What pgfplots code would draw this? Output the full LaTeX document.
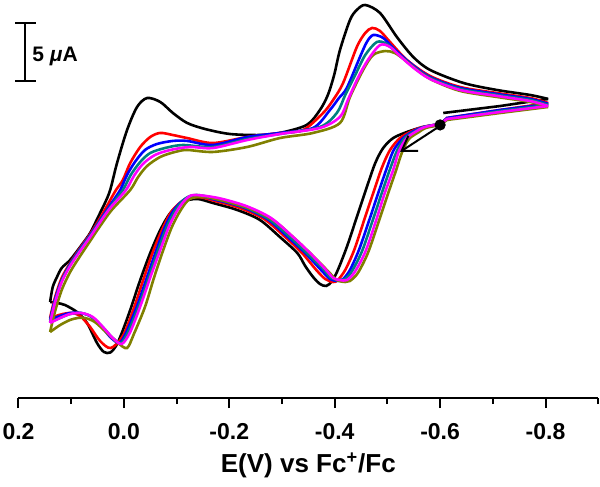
\documentclass[border=0pt]{standalone}
\usepackage{fontspec}
\setmainfont{Liberation Sans}
\usepackage{pgfplots}
\pgfplotsset{compat=1.18}
\usetikzlibrary{arrows.meta}
\definecolor{cvteal}{RGB}{0,128,128}
\definecolor{cvolive}{RGB}{128,128,0}
\definecolor{cvmag}{RGB}{255,0,255}
\definecolor{cvred}{RGB}{255,0,0}
\definecolor{cvblue}{RGB}{0,0,255}
\begin{document}
\begin{tikzpicture}
\path[use as bounding box] (-9.25pt,-44.5pt) rectangle (290.75pt,199pt);
\begin{axis}[
  scale only axis, width=289.85pt, height=199pt,
  x dir=reverse, xmin=-0.9, xmax=0.2, ymin=-17.07, ymax=17.24,
  axis x line*=bottom, axis y line=none, ytick=\empty,
  xtick={0.2,0,-0.2,-0.4,-0.6,-0.8},
  xticklabels={0.2,0.0,-0.2,-0.4,-0.6,-0.8},
  minor xtick={0.1,-0.1,-0.3,-0.5,-0.7,-0.9},
  tick align=outside, major tick length=5pt, minor tick length=3pt,
  every tick/.style={black, line width=1pt},
  axis line style={line width=1pt},
  ticklabel style={font=\fontsize{11.5}{13}\selectfont\bfseries},
  xticklabel style={yshift=-4pt},
  xlabel={E(V) vs Fc\textsuperscript{+}/Fc},
  xlabel style={font=\fontsize{13}{15}\selectfont\bfseries, at={(axis description cs:0.5,0)}, anchor=base, yshift=-37.3pt},
  clip=false,
  cv/.style={line width=1.3pt, smooth},
  cvs/.style={line width=1.3pt},
]
% ---------- black ----------
\addplot[black, cv] coordinates {
(-0.600,6.47) (-0.562,6.21) (-0.537,5.86) (-0.511,5.34) (-0.492,4.48) (-0.477,3.19)
(-0.461,1.12) (-0.442,-1.47) (-0.423,-4.05) (-0.406,-6.03) (-0.395,-7.00) (-0.384,-7.41)
(-0.372,-7.24) (-0.359,-6.64) (-0.344,-5.69) (-0.329,-4.57) (-0.296,-3.19) (-0.258,-1.72) (-0.215,-0.86)
(-0.169,-0.26) (-0.139,0.09) (-0.112,-0.17) (-0.088,-1.12) (-0.069,-2.59) (-0.050,-4.57)
(-0.031,-6.90) (-0.012,-9.48) (0.004,-11.47) (0.015,-12.59) (0.026,-13.15) (0.038,-13.10) (0.051,-12.33)
(0.070,-10.60) (0.089,-9.66) (0.112,-9.05) (0.127,-8.88) (0.140,-8.79)};
\addplot[black, cv] coordinates {
(0.140,-8.79) (0.135,-7.50) (0.127,-6.64) (0.118,-5.86) (0.102,-5.17) (0.083,-4.05)
(0.064,-2.84) (0.049,-1.47) (0.036,-0.26) (0.026,0.86) (0.013,3.19) (-0.006,6.03)
(-0.025,8.02) (-0.044,8.79) (-0.069,8.45) (-0.093,7.50) (-0.120,6.64) (-0.154,6.12)
(-0.201,5.69) (-0.258,5.60) (-0.296,5.78) (-0.347,6.47) (-0.372,7.76) (-0.387,9.05)
(-0.399,10.78) (-0.410,12.93) (-0.429,15.52) (-0.442,16.38) (-0.458,16.81) (-0.486,16.12)
(-0.518,14.05) (-0.549,12.33) (-0.581,11.21) (-0.644,10.09) (-0.708,9.48)
(-0.771,9.05) (-0.805,8.71)};
\addplot[black, cvs] coordinates {(-0.805,8.71) (-0.714,8.10) (-0.606,7.50)};
% ---------- red ----------
\addplot[cvred, cv] coordinates {
(-0.600,6.55) (-0.566,6.29) (-0.547,5.95) (-0.524,5.34) (-0.505,4.31) (-0.490,2.84)
(-0.475,0.86) (-0.456,-1.72) (-0.437,-4.31) (-0.420,-6.03) (-0.406,-6.90) (-0.397,-7.07)
(-0.382,-6.81) (-0.365,-6.03) (-0.338,-4.57) (-0.306,-3.19) (-0.266,-1.64) (-0.220,-0.69)
(-0.173,-0.09) (-0.141,0.26) (-0.114,0.00) (-0.091,-0.95) (-0.074,-2.41) (-0.055,-4.48)
(-0.038,-6.72) (-0.019,-9.31) (0.002,-11.72) (0.025,-12.76) (0.045,-12.16) (0.064,-10.95)
(0.083,-10.00) (0.099,-9.74) (0.116,-9.83) (0.129,-10.00) (0.140,-10.17)};
\addplot[cvred, cv] coordinates {
(0.140,-10.17) (0.131,-8.45) (0.118,-6.72) (0.102,-5.43) (0.083,-4.14) (0.064,-2.93)
(0.045,-1.55) (0.030,-0.34) (0.015,0.86) (0.002,1.72) (-0.012,3.19) (-0.031,4.57)
(-0.050,5.43) (-0.069,5.78) (-0.093,5.60) (-0.120,5.34) (-0.169,4.91) (-0.234,5.43)
(-0.296,5.78) (-0.340,6.03) (-0.378,7.50) (-0.397,8.62) (-0.416,10.09) (-0.442,13.19)
(-0.458,14.40) (-0.471,14.83) (-0.486,14.57) (-0.505,13.62) (-0.537,12.07) (-0.581,10.69)
(-0.638,9.74) (-0.708,9.22) (-0.771,8.79) (-0.805,8.36)};
\addplot[cvred, cvs] coordinates {(-0.805,8.36) (-0.714,7.76) (-0.613,7.07) (-0.603,6.64)};
% ---------- blue ----------
\addplot[cvblue, cv] coordinates {
(-0.600,6.55) (-0.568,6.29) (-0.550,5.95) (-0.530,5.34) (-0.512,4.31) (-0.499,2.76)
(-0.484,0.78) (-0.465,-1.81) (-0.446,-4.31) (-0.429,-6.03) (-0.416,-6.81) (-0.406,-6.98)
(-0.391,-6.81) (-0.374,-6.03) (-0.344,-4.57) (-0.311,-3.19) (-0.272,-1.64) (-0.224,-0.60)
(-0.175,0.00) (-0.141,0.34) (-0.116,0.09) (-0.095,-0.86) (-0.078,-2.33) (-0.061,-4.40)
(-0.044,-6.64) (-0.025,-9.14) (-0.004,-11.47) (0.009,-12.33) (0.026,-11.81) (0.045,-10.78)
(0.064,-10.00) (0.083,-9.74) (0.102,-9.74) (0.121,-10.00) (0.140,-10.34)};
\addplot[cvblue, cv] coordinates {
(0.140,-10.34) (0.131,-8.62) (0.118,-6.90) (0.102,-5.52) (0.083,-4.22) (0.064,-3.02)
(0.045,-1.72) (0.026,-0.43) (0.007,0.86) (-0.006,2.16) (-0.021,3.28) (-0.040,4.31)
(-0.063,4.83) (-0.093,5.09) (-0.120,5.09) (-0.169,4.74) (-0.234,5.43) (-0.296,5.78)
(-0.359,6.21) (-0.391,7.76) (-0.408,8.79) (-0.423,9.66) (-0.448,12.33) (-0.461,13.62)
(-0.473,14.22) (-0.492,13.97) (-0.511,13.10) (-0.543,11.81) (-0.581,10.60) (-0.638,9.66)
(-0.708,9.14) (-0.771,8.71) (-0.805,8.28)};
\addplot[cvblue, cvs] coordinates {(-0.805,8.28) (-0.714,7.76) (-0.613,7.07) (-0.603,6.64)};
% ---------- teal ----------
\addplot[cvteal, cv] coordinates {
(-0.600,6.55) (-0.569,6.29) (-0.554,5.95) (-0.533,5.34) (-0.518,4.22) (-0.505,2.67)
(-0.490,0.69) (-0.471,-1.90) (-0.452,-4.40) (-0.433,-6.12) (-0.420,-6.81) (-0.408,-6.90)
(-0.393,-6.72) (-0.378,-5.95) (-0.347,-4.57) (-0.315,-3.19) (-0.275,-1.64) (-0.228,-0.60)
(-0.177,0.09) (-0.139,0.43) (-0.118,0.17) (-0.099,-0.78) (-0.082,-2.24) (-0.065,-4.31)
(-0.048,-6.55) (-0.029,-9.05) (-0.008,-11.38) (0.006,-12.33) (0.023,-11.81) (0.042,-10.86)
(0.061,-10.09) (0.081,-9.74) (0.102,-9.83) (0.121,-10.17) (0.140,-10.52)};
\addplot[cvteal, cv] coordinates {
(0.140,-10.52) (0.131,-8.79) (0.118,-6.98) (0.102,-5.60) (0.083,-4.31) (0.064,-3.10)
(0.045,-1.81) (0.026,-0.60) (0.002,0.86) (-0.013,2.16) (-0.031,3.28) (-0.050,4.05)
(-0.078,4.48) (-0.112,4.74) (-0.169,4.57) (-0.234,5.26) (-0.296,5.69) (-0.372,6.29)
(-0.404,7.50) (-0.420,9.05) (-0.439,10.78) (-0.458,12.50) (-0.480,13.62) (-0.499,13.45)
(-0.518,12.67) (-0.547,11.55) (-0.581,10.52) (-0.638,9.57) (-0.708,9.05) (-0.771,8.62)
(-0.805,8.19)};
\addplot[cvteal, cvs] coordinates {(-0.805,8.19) (-0.714,7.67) (-0.613,6.98) (-0.603,6.64)};
% ---------- olive ----------
\addplot[cvolive, cv] coordinates {
(-0.600,6.47) (-0.573,6.21) (-0.560,5.86) (-0.541,5.26) (-0.528,4.14) (-0.516,2.50)
(-0.501,0.52) (-0.482,-2.07) (-0.463,-4.57) (-0.444,-6.29) (-0.429,-6.98) (-0.420,-7.07)
(-0.404,-6.90) (-0.387,-6.12) (-0.357,-4.74) (-0.325,-3.36) (-0.283,-1.72) (-0.236,-0.69)
(-0.182,0.00) (-0.150,0.26) (-0.125,0.09) (-0.108,-0.86) (-0.091,-2.33) (-0.074,-4.40)
(-0.057,-6.72) (-0.040,-9.22) (-0.019,-11.55) (-0.006,-12.76) (0.011,-12.33) (0.032,-11.47)
(0.055,-10.52) (0.074,-10.17) (0.087,-10.17) (0.102,-10.34) (0.121,-10.78) (0.140,-11.38)};
\addplot[cvolive, cv] coordinates {
(0.140,-11.38) (0.131,-9.66) (0.118,-7.76) (0.102,-6.21) (0.083,-4.83) (0.064,-3.53)
(0.045,-2.24) (0.023,-0.86) (-0.012,0.86) (-0.027,1.98) (-0.044,2.93) (-0.069,3.71)
(-0.097,4.14) (-0.120,4.31) (-0.169,4.14) (-0.234,4.57) (-0.296,5.34) (-0.359,5.78)
(-0.410,6.64) (-0.429,8.88) (-0.454,11.21) (-0.473,12.50) (-0.496,12.84) (-0.514,12.67)
(-0.533,12.07) (-0.556,11.21) (-0.585,10.34) (-0.638,9.40) (-0.708,8.88) (-0.771,8.45)
(-0.805,8.02)};
\addplot[cvolive, cvs] coordinates {(-0.805,8.02) (-0.714,7.50) (-0.613,6.90) (-0.603,6.55)};
% ---------- magenta ----------
\addplot[cvmag, cv] coordinates {
(-0.600,6.55) (-0.571,6.29) (-0.556,5.95) (-0.537,5.34) (-0.522,4.22) (-0.511,2.59)
(-0.495,0.60) (-0.477,-1.98) (-0.458,-4.48) (-0.438,-6.21) (-0.423,-6.90) (-0.410,-6.90)
(-0.397,-6.72) (-0.382,-5.95) (-0.353,-4.57) (-0.321,-3.19) (-0.279,-1.55) (-0.232,-0.52)
(-0.179,0.17) (-0.135,0.43) (-0.120,0.17) (-0.103,-0.78) (-0.086,-2.24) (-0.069,-4.31)
(-0.051,-6.55) (-0.032,-9.05) (-0.012,-11.38) (0.004,-12.41) (0.021,-11.90) (0.040,-10.95)
(0.059,-10.09) (0.081,-9.74) (0.102,-9.83) (0.121,-10.17) (0.140,-10.60)};
\addplot[cvmag, cv] coordinates {
(0.140,-10.60) (0.131,-8.88) (0.118,-7.07) (0.102,-5.69) (0.083,-4.40) (0.064,-3.19)
(0.045,-1.90) (0.026,-0.69) (-0.004,0.86) (-0.019,2.07) (-0.036,3.10) (-0.059,3.88)
(-0.088,4.31) (-0.125,4.57) (-0.169,4.48) (-0.234,5.17) (-0.296,5.69) (-0.372,6.21)
(-0.410,7.16) (-0.425,8.62) (-0.444,10.52) (-0.463,12.07) (-0.486,13.36) (-0.505,13.19)
(-0.524,12.41) (-0.550,11.38) (-0.581,10.43) (-0.638,9.48) (-0.708,8.97) (-0.771,8.53)
(-0.805,8.10)};
\addplot[cvmag, cvs] coordinates {(-0.805,8.10) (-0.714,7.59) (-0.613,6.98) (-0.603,6.64)};
% ---------- start point and scan direction ----------
\addplot[only marks, mark=*, mark size=2.6pt, black] coordinates {(-0.600,6.47)};
\draw[line width=1pt, -{Straight Barb[length=7pt,width=9pt,line width=1pt]}] (axis cs:-0.594,6.21) -- (axis cs:-0.524,4.14);
% ---------- scale bar ----------
\draw[line width=1pt] (axis cs:0.1877,15.28) -- (axis cs:0.1877,10.28);
\draw[line width=1pt] (axis cs:0.2066,15.28) -- (axis cs:0.1668,15.28);
\draw[line width=1pt] (axis cs:0.2066,10.28) -- (axis cs:0.1668,10.28);
\node[anchor=west, inner sep=0pt, font=\fontsize{10.5}{12}\selectfont\bfseries] at (axis cs:0.1744,12.41) {5 \textit{μ}A};
\end{axis}
\end{tikzpicture}
\end{document}
